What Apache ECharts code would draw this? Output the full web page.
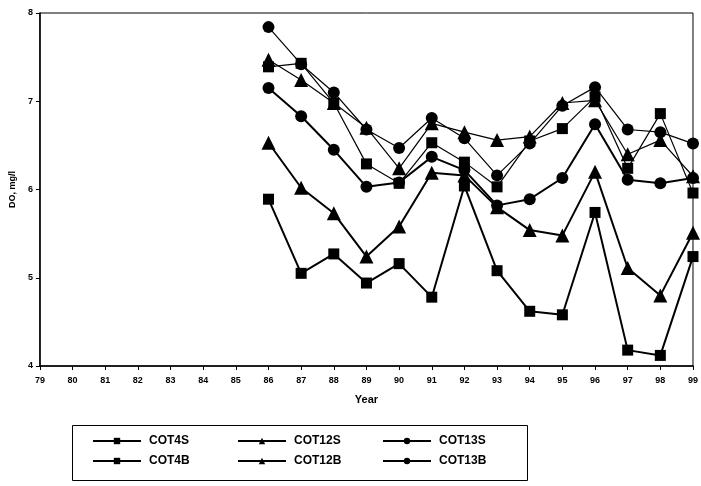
<!DOCTYPE html>
<html>
<head>
<meta charset="utf-8">
<script src="https://cdn.jsdelivr.net/npm/echarts@6/dist/echarts.min.js"></script>
<style>html,body{margin:0;padding:0;background:#fff}#c{width:701px;height:486px}</style>
</head>
<body>
<div id="c"></div>
<script>
var years = [86, 87, 88, 89, 90, 91, 92, 93, 94, 95, 96, 97, 98, 99];
var cot4S  = [7.39, 7.43, 6.98, 6.29, 6.07, 6.53, 6.31, 6.03, 6.55, 6.69, 7.05, 6.24, 6.86, 5.96];
var cot4B  = [5.89, 5.05, 5.27, 4.94, 5.16, 4.78, 6.04, 5.08, 4.62, 4.58, 5.74, 4.18, 4.12, 5.24];
var cot12S = [7.47, 7.24, 6.98, 6.70, 6.24, 6.75, 6.65, 6.56, 6.60, 6.98, 7.01, 6.40, 6.56, 6.15];
var cot12B = [6.53, 6.02, 5.73, 5.24, 5.58, 6.19, 6.16, 5.80, 5.54, 5.48, 6.20, 5.11, 4.80, 5.51];
var cot13S = [7.84, 7.42, 7.10, 6.68, 6.47, 6.81, 6.58, 6.16, 6.52, 6.95, 7.16, 6.68, 6.65, 6.52];
var cot13B = [7.15, 6.83, 6.45, 6.03, 6.08, 6.37, 6.22, 5.82, 5.89, 6.13, 6.74, 6.11, 6.07, 6.13];
var xMin = 79, xMax = 99, yMin = 4, yMax = 8;
var seriesNames = ['COT4S', 'COT4B', 'COT12S', 'COT12B', 'COT13S', 'COT13B'];

function pairs(arr) { return years.map(function (y, i) { return [y, arr[i]]; }); }

var F = 'Liberation Sans, Arial, sans-serif';
function mk(name, data, symbol, size, width) {
  return {
    name: name, type: 'line', data: pairs(data), symbol: symbol, symbolSize: size,
    lineStyle: { color: '#000', width: width }, itemStyle: { color: '#000' },
    animation: false, clip: false, z: 3
  };
}
function lg(name, left, top) {
  return {
    data: [name], left: left, top: top, padding: 0, itemWidth: 48, itemHeight: 8, itemGap: 13,
    textStyle: { fontFamily: F, fontSize: 12, fontWeight: 'bold', color: '#000', padding: [0, 0, 0, 3] },
    selectedMode: false
  };
}
var chart = echarts.init(document.getElementById('c'), null, { renderer: 'canvas' });
chart.setOption({
  backgroundColor: '#fff',
  animation: false,
  grid: { left: 39, right: -1, top: 13, bottom: 120, show: true, borderColor: '#000', borderWidth: 1 },
  xAxis: {
    type: 'value', min: xMin, max: xMax, interval: 1,
    name: 'Year', nameLocation: 'middle', nameGap: 28,
    nameTextStyle: { fontFamily: F, fontSize: 11, fontWeight: 'bold', color: '#000' },
    axisLine: { lineStyle: { color: '#000', width: 1.5 } },
    axisTick: { show: true, length: 4, lineStyle: { color: '#000' } },
    axisLabel: { fontFamily: F, fontSize: 9, fontWeight: 'bold', color: '#000', margin: 10 },
    splitLine: { show: false }
  },
  yAxis: {
    type: 'value', min: yMin, max: yMax, interval: 1,
    name: 'DO, mg/l', nameLocation: 'middle', nameGap: 16, nameRotate: 90,
    nameTextStyle: { fontFamily: F, fontSize: 9, fontWeight: 'bold', color: '#000' },
    axisLine: { show: true, lineStyle: { color: '#000', width: 1.5 } },
    axisTick: { show: true, length: 4, lineStyle: { color: '#000' } },
    axisLabel: { fontFamily: F, fontSize: 9, fontWeight: 'bold', color: '#000', margin: 7 },
    splitLine: { show: false }
  },
  legend: [
    lg('COT4S', 92, 435), lg('COT12S', 237, 435), lg('COT13S', 382, 435),
    lg('COT4B', 92, 455), lg('COT12B', 237, 455), lg('COT13B', 382, 455)
  ],
  graphic: [{
    type: 'rect', left: 70, top: 423, shape: { width: 455, height: 55 },
    style: { fill: 'none', stroke: '#000', lineWidth: 1 }, z: -1
  }],
  series: [
    mk(seriesNames[0], cot4S, 'rect', 11, 1.2),
    mk(seriesNames[1], cot4B, 'rect', 11, 2),
    mk(seriesNames[2], cot12S, 'triangle', 14, 1.2),
    mk(seriesNames[3], cot12B, 'triangle', 14, 2),
    mk(seriesNames[4], cot13S, 'circle', 12, 1.2),
    mk(seriesNames[5], cot13B, 'circle', 12, 2)
  ]
});
</script>
</body>
</html>
